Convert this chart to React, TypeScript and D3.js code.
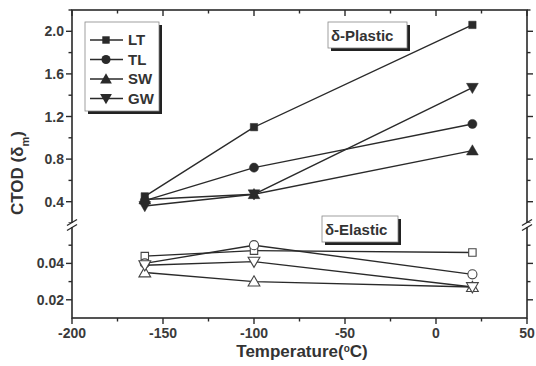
import React, { useRef, useEffect } from 'react';
import * as d3 from 'd3';

// temperatures (°C)
const temps = [-160, -100, 20];
const seriesNames = ['LT', 'TL', 'SW', 'GW'];

// δ-Plastic CTOD values (upper panel)
const plasticLT = [0.45, 1.1, 2.06];
const plasticTL = [0.41, 0.72, 1.13];
const plasticSW = [0.42, 0.47, 0.88];
const plasticGW = [0.36, 0.47, 1.47];

// δ-Elastic CTOD values (lower panel)
const elasticLT = [0.044, 0.047, 0.046];
const elasticTL = [0.040, 0.050, 0.034];
const elasticSW = [0.035, 0.030, 0.027];
const elasticGW = [0.039, 0.041, 0.027];

const xTicks = [-200, -150, -100, -50, 0, 50];
const yTopTicks = [0.4, 0.8, 1.2, 1.6, 2.0];
const yBottomTicks = [0.02, 0.04];

const App: React.FC = () => {
  const svgRef = useRef<SVGSVGElement>(null);

  useEffect(() => {
    if (!svgRef.current) return;
    const svg = d3.select(svgRef.current);
    svg.selectAll('*').remove();

    const left = 72, right = 527, top = 10, bottom = 318;
    const breakY = 225;
    const ink = '#2a2a2a';
    const font = 'Arial, "Liberation Sans", sans-serif';

    const x = d3.scaleLinear().domain([-200, 50]).range([left, right]);
    const yTop = d3.scaleLinear().domain([0.2, 2.2]).range([breakY - 2, top]);
    const yBot = d3.scaleLinear().domain([0.01, 0.06]).range([bottom, breakY + 2]);

    const g = svg.append('g');

    // frame
    g.append('rect')
      .attr('x', left).attr('y', top)
      .attr('width', right - left).attr('height', bottom - top)
      .attr('fill', 'none').attr('stroke', ink).attr('stroke-width', 1.6);

    // x ticks (bottom + top)
    const xMinor = d3.range(-200, 51, 25);
    xMinor.forEach((v) => {
      const major = v % 50 === 0;
      const len = major ? 6 : 3.5;
      g.append('line').attr('x1', x(v)).attr('x2', x(v))
        .attr('y1', bottom).attr('y2', bottom + len)
        .attr('stroke', ink).attr('stroke-width', 1.4);
      g.append('line').attr('x1', x(v)).attr('x2', x(v))
        .attr('y1', top).attr('y2', top + len)
        .attr('stroke', ink).attr('stroke-width', 1.4);
    });
    g.selectAll('.xlab').data(xTicks).enter().append('text')
      .attr('x', (d) => x(d)).attr('y', bottom + 20)
      .attr('text-anchor', 'middle')
      .style('font-family', font).style('font-size', '14px').style('font-weight', 'bold')
      .attr('fill', '#3a3a3a')
      .text((d) => d);

    // y ticks upper
    const yTopMinor = d3.range(0.2, 2.21, 0.2);
    yTopMinor.forEach((v) => {
      const major = yTopTicks.some((t) => Math.abs(t - v) < 1e-6);
      const len = major ? 6 : 3.5;
      [[left, 1], [right, -1]].forEach(([ax, dir]) => {
        g.append('line').attr('x1', ax).attr('x2', ax - dir * len)
          .attr('y1', yTop(v)).attr('y2', yTop(v))
          .attr('stroke', ink).attr('stroke-width', 1.4);
      });
    });
    g.selectAll('.ytlab').data(yTopTicks).enter().append('text')
      .attr('x', left - 8).attr('y', (d) => yTop(d) + 5)
      .attr('text-anchor', 'end')
      .style('font-family', font).style('font-size', '14px').style('font-weight', 'bold')
      .attr('fill', '#3a3a3a')
      .text((d) => d.toFixed(1));

    // y ticks lower
    const yBotMinor = [0.02, 0.03, 0.04, 0.05];
    yBotMinor.forEach((v) => {
      const major = yBottomTicks.some((t) => Math.abs(t - v) < 1e-6);
      const len = major ? 6 : 3.5;
      [[left, 1], [right, -1]].forEach(([ax, dir]) => {
        g.append('line').attr('x1', ax).attr('x2', ax - dir * len)
          .attr('y1', yBot(v)).attr('y2', yBot(v))
          .attr('stroke', ink).attr('stroke-width', 1.4);
      });
    });
    g.selectAll('.yblab').data(yBottomTicks).enter().append('text')
      .attr('x', left - 8).attr('y', (d) => yBot(d) + 5)
      .attr('text-anchor', 'end')
      .style('font-family', font).style('font-size', '14px').style('font-weight', 'bold')
      .attr('fill', '#3a3a3a')
      .text((d) => d.toFixed(2));

    // axis break marks
    [left, right].forEach((ax) => {
      g.append('rect').attr('x', ax - 4).attr('y', breakY - 2)
        .attr('width', 8).attr('height', 4).attr('fill', 'white');
      [-2.5, 2.5].forEach((o) => {
        g.append('line')
          .attr('x1', ax - 5).attr('y1', breakY + o + 3)
          .attr('x2', ax + 5).attr('y2', breakY + o - 3)
          .attr('stroke', ink).attr('stroke-width', 1.4);
      });
    });

    // symbols
    const symTypes = [d3.symbolSquare, d3.symbolCircle, d3.symbolTriangle, d3.symbolTriangle];
    const symSizes = [55, 65, 60, 60];
    const rot = [0, 0, 0, 180];

    const line = (ys: d3.ScaleLinear<number, number>) =>
      d3.line<number>().x((_, i) => x(temps[i])).y((d) => ys(d));

    const plastic = [plasticLT, plasticTL, plasticSW, plasticGW];
    const elastic = [elasticLT, elasticTL, elasticSW, elasticGW];

    const drawSeries = (vals: number[], ys: d3.ScaleLinear<number, number>, k: number, filled: boolean) => {
      g.append('path').datum(vals)
        .attr('d', line(ys))
        .attr('fill', 'none').attr('stroke', ink).attr('stroke-width', 1.4);
      g.selectAll(null).data(vals).enter().append('path')
        .attr('d', d3.symbol().type(symTypes[k]).size(symSizes[k])())
        .attr('transform', (d, i) => `translate(${x(temps[i])},${ys(d) + (k === 2 ? 1 : k === 3 ? -1 : 0)}) rotate(${rot[k]})`)
        .attr('fill', filled ? ink : 'white')
        .attr('stroke', filled ? ink : '#444')
        .attr('stroke-width', filled ? 0.5 : 1.1);
    };

    plastic.forEach((vals, k) => drawSeries(vals, yTop, k, true));
    elastic.forEach((vals, k) => drawSeries(vals, yBot, k, false));

    // boxed label with shadow
    const box = (bx: number, by: number, bw: number, bh: number) => {
      g.append('rect').attr('x', bx + 3).attr('y', by + 3).attr('width', bw).attr('height', bh)
        .attr('fill', '#222');
      g.append('rect').attr('x', bx).attr('y', by).attr('width', bw).attr('height', bh)
        .attr('fill', 'white').attr('stroke', '#888').attr('stroke-width', 0.8);
    };

    // legend
    box(85, 22, 74, 89);
    seriesNames.forEach((name, k) => {
      const ly = 40 + k * 19.5;
      g.append('line').attr('x1', 90).attr('x2', 123).attr('y1', ly).attr('y2', ly)
        .attr('stroke', ink).attr('stroke-width', 1.4);
      g.append('path')
        .attr('d', d3.symbol().type(symTypes[k]).size(symSizes[k])())
        .attr('transform', `translate(106,${ly + (k === 2 ? 1 : k === 3 ? -1 : 0)}) rotate(${rot[k]})`)
        .attr('fill', ink);
      g.append('text').attr('x', 128).attr('y', ly + 5)
        .style('font-family', font).style('font-size', '15px').style('font-weight', 'bold')
        .attr('fill', '#333').text(name);
    });

    box(328, 22, 79, 26);
    g.append('text').attr('x', 331).attr('y', 41)
      .style('font-family', font).style('font-size', '15px').style('font-weight', 'bold')
      .attr('fill', '#333').text('δ-Plastic');

    box(322, 216, 76, 26);
    g.append('text').attr('x', 325).attr('y', 235)
      .style('font-family', font).style('font-size', '15px').style('font-weight', 'bold')
      .attr('fill', '#333').text('δ-Elastic');

    // axis titles
    g.append('text').attr('x', 302).attr('y', 357)
      .attr('text-anchor', 'middle')
      .style('font-family', font).style('font-size', '17px').style('font-weight', 'bold')
      .attr('fill', '#333')
      .html('Temperature(<tspan baseline-shift="super" font-size="10px">o</tspan>C)');

    const yl = g.append('text')
      .attr('transform', 'translate(23,173) rotate(-90)')
      .attr('text-anchor', 'middle')
      .style('font-family', font).style('font-size', '17px').style('font-weight', 'bold')
      .attr('fill', '#333');
    yl.append('tspan').text('CTOD (δ');
    yl.append('tspan').attr('baseline-shift', 'sub').attr('font-size', '11px').text('m');
    yl.append('tspan').text(')');
  }, []);

  return (
    <svg
      ref={svgRef}
      width={536}
      height={366}
      style={{ position: 'absolute', left: 0, top: 0, background: 'white' }}
    />
  );
};

export default App;
